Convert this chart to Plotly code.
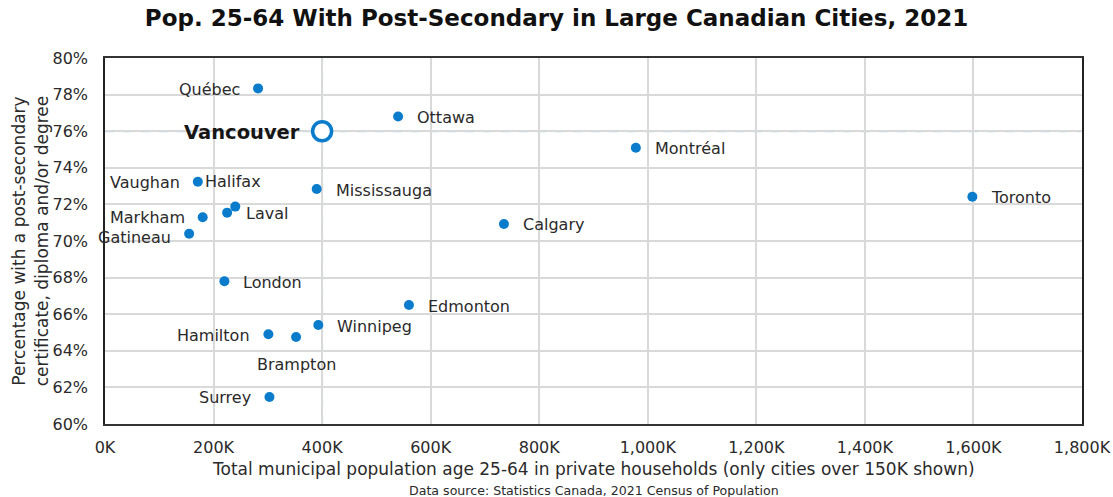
import plotly.graph_objects as go

# City populations aged 25-64 (private households) and share with post-secondary credentials
cities = ["Québec", "Ottawa", "Montréal", "Toronto", "Vaughan", "Halifax", "Mississauga",
          "Laval", "Markham", "Gatineau", "Calgary", "London", "Edmonton", "Winnipeg",
          "Hamilton", "Brampton", "Surrey"]
population = [282000, 540000, 978000, 1598000, 171000, 240000, 390000,
              225000, 180000, 155000, 735000, 220000, 560000, 393000,
              301000, 352000, 303000]
pct_postsec = [78.34, 76.8, 75.1, 72.42, 73.24, 71.88, 72.84,
               71.55, 71.3, 70.4, 70.93, 67.8, 66.5, 65.41,
               64.9, 64.75, 61.48]

highlight_city = "Vancouver"
highlight_pop = 400000
highlight_pct = 76.0

x_ticks = [0, 200000, 400000, 600000, 800000, 1000000, 1200000, 1400000, 1600000, 1800000]
x_tick_labels = ["0K", "200K", "400K", "600K", "800K", "1,000K", "1,200K", "1,400K", "1,600K", "1,800K"]
y_ticks = [60, 62, 64, 66, 68, 70, 72, 74, 76, 78, 80]
y_tick_labels = [f"{v}%" for v in y_ticks]

# Where each city's label sits relative to its marker
label_side = {
    "Québec": "left", "Ottawa": "right", "Montréal": "right", "Toronto": "right",
    "Vaughan": "left", "Halifax": "above", "Mississauga": "right", "Laval": "right",
    "Markham": "left", "Gatineau": "left", "Calgary": "right", "London": "right",
    "Edmonton": "right", "Winnipeg": "right", "Hamilton": "left", "Brampton": "below",
    "Surrey": "left",
}
# Small vertical nudges for labels in the crowded lower-left cluster
label_nudge = {"Markham": 1, "Gatineau": -3}

BLUE = "#0a7ccb"
GUIDE = "#9dd9f6"
FONT = "DejaVu Sans"
TEXT = "#2a2a2a"

fig = go.Figure()

fig.add_trace(go.Scatter(
    x=population, y=pct_postsec, mode="markers",
    marker=dict(size=10, color=BLUE),
    hovertext=cities, hoverinfo="text+x+y", showlegend=False,
))

fig.add_trace(go.Scatter(
    x=[highlight_pop], y=[highlight_pct], mode="markers",
    marker=dict(size=19, color="white", line=dict(color=BLUE, width=3.5)),
    hovertext=[highlight_city], hoverinfo="text+x+y", showlegend=False,
))

# Dashed guide lines through the highlighted city
fig.add_shape(type="line", xref="x", yref="paper", x0=highlight_pop, x1=highlight_pop,
              y0=0, y1=1, line=dict(color=GUIDE, width=2, dash="dash"), layer="below")
fig.add_shape(type="line", xref="paper", yref="y", x0=0, x1=1,
              y0=highlight_pct, y1=highlight_pct,
              line=dict(color=GUIDE, width=2, dash="dash"), layer="below")

annotations = []
for name, xv, yv in zip(cities, population, pct_postsec):
    side = label_side[name]
    nudge = label_nudge.get(name, 0)
    ann = dict(x=xv, y=yv, xref="x", yref="y", text=name, showarrow=False,
               font=dict(family=FONT, size=16, color=TEXT))
    if side == "right":
        ann.update(xanchor="left", xshift=17, yshift=-1 + nudge)
    elif side == "left":
        ann.update(xanchor="right", xshift=-16, yshift=-1 + nudge)
    elif side == "above":
        ann.update(xanchor="center", yanchor="bottom", xshift=-2, yshift=14)
    else:
        ann.update(xanchor="center", yanchor="top", yshift=-16)
    annotations.append(ann)

annotations.append(dict(x=highlight_pop, y=highlight_pct, xref="x", yref="y",
                        text="<b>Vancouver</b>", showarrow=False, xanchor="right",
                        xshift=-20, yshift=-1,
                        font=dict(family=FONT, size=19.5, color="#161616")))

annotations.append(dict(x=0.5, y=-0.09, xref="paper", yref="paper", yanchor="top",
                        text="Total municipal population age 25-64 in private households (only cities over 150K shown)",
                        showarrow=False, font=dict(family=FONT, size=17, color=TEXT)))
annotations.append(dict(x=0.5, y=-0.155, xref="paper", yref="paper", yanchor="top",
                        text="Data source: Statistics Canada, 2021 Census of Population",
                        showarrow=False, font=dict(family=FONT, size=12.6, color=TEXT)))

fig.update_layout(
    width=1113, height=497,
    margin=dict(l=105, r=31, t=58, b=73),
    paper_bgcolor="white", plot_bgcolor="white",
    title=dict(text="<b>Pop. 25-64 With Post-Secondary in Large Canadian Cities, 2021</b>",
               x=0.5, xanchor="center", y=0.963, yanchor="middle",
               font=dict(family=FONT, size=23, color="#111111")),
    annotations=annotations,
    xaxis=dict(range=[0, 1800000], tickvals=x_ticks, ticktext=x_tick_labels,
               showgrid=True, gridcolor="#d9d9d9", gridwidth=1.5, zeroline=False,
               showline=True, linecolor="#333333", linewidth=2, mirror=True,
               ticks="", ticklabelstandoff=8, automargin=False,
               tickfont=dict(family=FONT, size=16, color=TEXT)),
    yaxis=dict(range=[60, 80], tickvals=y_ticks, ticktext=y_tick_labels,
               showgrid=True, gridcolor="#d9d9d9", gridwidth=1.5, zeroline=False,
               showline=True, linecolor="#222222", linewidth=1.5, mirror=True,
               ticks="", ticklabelstandoff=12, automargin=False,
               tickfont=dict(family=FONT, size=16, color=TEXT),
               title=dict(text="Percentage with a post-secondary<br>certificate, diploma and/or degree",
                          standoff=0,
                          font=dict(family=FONT, size=17, color=TEXT))),
)

fig.write_html("out.html")
